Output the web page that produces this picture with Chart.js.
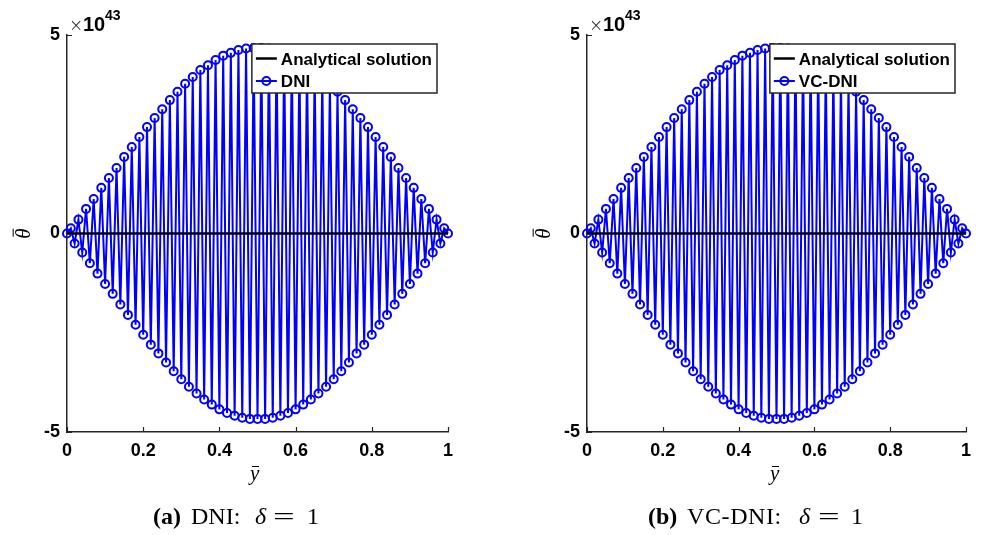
<!DOCTYPE html>
<html>
<head>
<meta charset="utf-8">
<script src="https://cdn.jsdelivr.net/npm/chart.js@4/dist/chart.umd.min.js"></script>
<style>
  html, body { margin: 0; padding: 0; background: #fff; }
  body { width: 981px; height: 535px; position: relative; overflow: hidden; font-family: "Liberation Sans", Arial, sans-serif; }
  canvas { position: absolute; top: 0; }
  .abs { position: absolute; white-space: nowrap; color: #000; }
  .times { font-family: "DejaVu Sans", sans-serif; font-weight: 200; font-size: 17px; line-height: 18px; color: #222; }
  .ten { font-weight: bold; font-size: 20px; line-height: 20px; }
  .sup { font-weight: bold; font-size: 14px; line-height: 14px; }
  .serif { font-family: "Liberation Serif", "Times New Roman", serif; font-size: 24px; line-height: 24px; }
  .ylab { font-family: "Liberation Serif", serif; font-style: italic; font-size: 21px; line-height: 21px; }
  .barred { position: relative; display: inline-block; }
  .barred::before { content: ""; position: absolute; left: 2px; right: 0px; height: 1.2px; background: #000; }
  .by::before { top: 3px; }
  .bt::before { top: 0px; }
</style>
</head>
<body>
<canvas id="chartA" width="470" height="470" style="left:0px"></canvas>
<canvas id="chartB" width="461" height="470" style="left:520px"></canvas>

<!-- exponent labels -->
<div class="abs times" style="left:69px;top:16px">×</div>
<div class="abs ten" style="left:83px;top:14px">10</div>
<div class="abs sup" style="left:105px;top:8px">43</div>
<div class="abs times" style="left:589px;top:16px">×</div>
<div class="abs ten" style="left:603px;top:14px">10</div>
<div class="abs sup" style="left:625px;top:8px">43</div>

<!-- axis titles -->
<div class="abs ylab" style="left:18px;top:223px;transform:rotate(-90deg);transform-origin:center;"><span class="barred bt">θ</span></div>
<div class="abs ylab" style="left:538px;top:223px;transform:rotate(-90deg);transform-origin:center;"><span class="barred bt">θ</span></div>
<div class="abs ylab" style="left:250px;top:463px"><span class="barred by">y</span></div>
<div class="abs ylab" style="left:770px;top:463px"><span class="barred by">y</span></div>

<!-- captions -->
<div class="abs serif" style="left:153px;top:504px"><b>(a)</b></div>
<div class="abs serif" style="left:191px;top:504px">DNI:</div>
<div class="abs serif" style="left:255px;top:504px"><i>δ</i></div>
<div class="abs serif" style="left:273px;top:504px;transform:scaleX(1.6);transform-origin:left;">=</div>
<div class="abs serif" style="left:307px;top:504px">1</div>

<div class="abs serif" style="left:648px;top:504px"><b>(b)</b></div>
<div class="abs serif" style="left:687px;top:504px;letter-spacing:0.6px">VC-DNI:</div>
<div class="abs serif" style="left:799px;top:504px"><i>δ</i></div>
<div class="abs serif" style="left:818px;top:504px;transform:scaleX(1.6);transform-origin:left;">=</div>
<div class="abs serif" style="left:851px;top:504px">1</div>

<script>
// ---------------- data ----------------
const xValues = [
  0.00, 0.01, 0.02, 0.03, 0.04, 0.05, 0.06, 0.07, 0.08, 0.09,
  0.10, 0.11, 0.12, 0.13, 0.14, 0.15, 0.16, 0.17, 0.18, 0.19,
  0.20, 0.21, 0.22, 0.23, 0.24, 0.25, 0.26, 0.27, 0.28, 0.29,
  0.30, 0.31, 0.32, 0.33, 0.34, 0.35, 0.36, 0.37, 0.38, 0.39,
  0.40, 0.41, 0.42, 0.43, 0.44, 0.45, 0.46, 0.47, 0.48, 0.49,
  0.50, 0.51, 0.52, 0.53, 0.54, 0.55, 0.56, 0.57, 0.58, 0.59,
  0.60, 0.61, 0.62, 0.63, 0.64, 0.65, 0.66, 0.67, 0.68, 0.69,
  0.70, 0.71, 0.72, 0.73, 0.74, 0.75, 0.76, 0.77, 0.78, 0.79,
  0.80, 0.81, 0.82, 0.83, 0.84, 0.85, 0.86, 0.87, 0.88, 0.89,
  0.90, 0.91, 0.92, 0.93, 0.94, 0.95, 0.96, 0.97, 0.98, 0.99,
  1.00
];

// DNI values (units of 1e43)
const dniValues = [
  0.00, 0.13, -0.25, 0.35, -0.48, 0.62, -0.75, 0.87, -1.01, 1.15,
  -1.27, 1.40, -1.52, 1.65, -1.79, 1.93, -2.05, 2.18, -2.30, 2.43,
  -2.55, 2.68, -2.80, 2.91, -3.02, 3.13, -3.25, 3.36, -3.47, 3.57,
  -3.67, 3.77, -3.86, 3.94, -4.03, 4.12, -4.18, 4.24, -4.31, 4.37,
  -4.43, 4.48, -4.52, 4.55, -4.59, 4.62, -4.64, 4.66, -4.67, 4.67,
  -4.67, 4.67, -4.67, 4.66, -4.64, 4.62, -4.59, 4.55, -4.52, 4.48,
  -4.43, 4.37, -4.31, 4.24, -4.18, 4.12, -4.03, 3.94, -3.86, 3.77,
  -3.67, 3.57, -3.47, 3.36, -3.25, 3.13, -3.02, 2.91, -2.80, 2.68,
  -2.55, 2.43, -2.30, 2.18, -2.05, 1.93, -1.79, 1.65, -1.52, 1.40,
  -1.27, 1.15, -1.01, 0.87, -0.75, 0.62, -0.48, 0.35, -0.25, 0.13,
  0.00
];

// VC-DNI values (units of 1e43)
const vcdniValues = [
  0.00, 0.13, -0.25, 0.35, -0.48, 0.62, -0.75, 0.87, -1.01, 1.15,
  -1.27, 1.40, -1.52, 1.65, -1.79, 1.93, -2.05, 2.18, -2.30, 2.43,
  -2.55, 2.68, -2.80, 2.91, -3.02, 3.13, -3.25, 3.36, -3.47, 3.57,
  -3.67, 3.77, -3.86, 3.94, -4.03, 4.12, -4.18, 4.24, -4.31, 4.37,
  -4.43, 4.48, -4.52, 4.55, -4.59, 4.62, -4.64, 4.66, -4.67, 4.67,
  -4.67, 4.67, -4.67, 4.66, -4.64, 4.62, -4.59, 4.55, -4.52, 4.48,
  -4.43, 4.37, -4.31, 4.24, -4.18, 4.12, -4.03, 3.94, -3.86, 3.77,
  -3.67, 3.57, -3.47, 3.36, -3.25, 3.13, -3.02, 2.91, -2.80, 2.68,
  -2.55, 2.43, -2.30, 2.18, -2.05, 1.93, -1.79, 1.65, -1.52, 1.40,
  -1.27, 1.15, -1.01, 0.87, -0.75, 0.62, -0.48, 0.35, -0.25, 0.13,
  0.00
];

const analyticalX = [0, 1];
const analyticalY = [0, 0];

const xTickValues = [0, 0.2, 0.4, 0.6, 0.8, 1];
const xTickLabels = ['0', '0.2', '0.4', '0.6', '0.8', '1'];
const yTickValues = [-5, 0, 5];
const yTickLabels = ['-5', '0', '5'];
const seriesLabelsA = ['Analytical solution', 'DNI'];
const seriesLabelsB = ['Analytical solution', 'VC-DNI'];

// ---------------- styling ----------------
const AXIS_COLOR = '#262626';
const BLUE = '#0000ff';
const TICK_FONT = { family: '"Liberation Sans", Arial, sans-serif', size: 18, weight: 'bold' };

const inwardTicks = {
  id: 'inwardTicks',
  afterDraw(chart) {
    const ctx = chart.ctx, area = chart.chartArea;
    const xs = chart.scales.x, ys = chart.scales.y;
    ctx.save();
    ctx.strokeStyle = AXIS_COLOR;
    ctx.lineWidth = 1.2;
    ctx.beginPath();
    xs.ticks.forEach(t => {
      const px = Math.round(xs.getPixelForValue(t.value)) + 0.5;
      ctx.moveTo(px, area.bottom);
      ctx.lineTo(px, area.bottom - 5);
    });
    ys.ticks.forEach(t => {
      const py = Math.round(ys.getPixelForValue(t.value)) + 0.5;
      ctx.moveTo(area.left, py);
      ctx.lineTo(area.left + 5, py);
    });
    ctx.stroke();
    ctx.restore();
  }
};

const boxLegend = {
  id: 'boxLegend',
  afterDraw(chart) {
    const ctx = chart.ctx, area = chart.chartArea;
    const ds = chart.data.datasets;
    ctx.save();
    ctx.font = 'bold 17px "Liberation Sans", Arial, sans-serif';
    const maxW = Math.max(...ds.map(d => ctx.measureText(d.label).width));
    const w = 29 + maxW + 5, h = 49;
    const left = area.right - 11 - w, top = area.top + 9;
    ctx.fillStyle = '#fff';
    ctx.fillRect(left, top, w, h);
    ctx.strokeStyle = AXIS_COLOR;
    ctx.lineWidth = 1.5;
    ctx.strokeRect(left, top, w, h);
    const rows = [top + 14.5, top + 37];
    ds.forEach((d, i) => {
      const cy = rows[i];
      ctx.strokeStyle = d.borderColor;
      ctx.lineWidth = d.borderWidth;
      ctx.beginPath();
      ctx.moveTo(left + 4, cy);
      ctx.lineTo(left + 25, cy);
      ctx.stroke();
      if (d.pointRadius > 0) {
        ctx.lineWidth = d.pointBorderWidth;
        ctx.beginPath();
        ctx.arc(left + 14.5, cy, d.pointRadius, 0, Math.PI * 2);
        ctx.stroke();
      }
      ctx.fillStyle = '#000';
      ctx.textBaseline = 'alphabetic';
      ctx.fillText(d.label, left + 29, cy + 6.1);
    });
    ctx.restore();
  }
};

function makeChart(id, labels, values, rightPad) {
  return new Chart(document.getElementById(id), {
    type: 'line',
    data: {
      datasets: [
        {
          label: labels[0],
          data: analyticalX.map((x, i) => ({ x: x, y: analyticalY[i] })),
          borderColor: '#000000',
          borderWidth: 2.5,
          pointRadius: 0,
          clip: false
        },
        {
          label: labels[1],
          data: xValues.map((x, i) => ({ x: x, y: values[i] })),
          borderColor: BLUE,
          borderWidth: 2,
          pointRadius: 4,
          pointBorderWidth: 2,
          pointBorderColor: BLUE,
          pointBackgroundColor: 'rgba(0,0,0,0)',
          clip: false
        }
      ]
    },
    options: {
      responsive: false,
      animation: false,
      events: [],
      layout: { padding: { top: 35, right: rightPad, left: 0, bottom: 0 } },
      plugins: { legend: { display: false }, tooltip: { enabled: false } },
      scales: {
        x: {
          type: 'linear', min: 0, max: 1,
          afterBuildTicks: s => { s.ticks = xTickValues.map(v => ({ value: v })); },
          afterFit: s => { s.height = 38; },
          ticks: { font: TICK_FONT, color: '#000', padding: 8, maxRotation: 0, autoSkip: false,
                   callback: (v) => xTickLabels[xTickValues.indexOf(v)] },
          grid: { display: true, drawOnChartArea: false, drawTicks: false },
          border: { display: true, color: AXIS_COLOR, width: 1.5 }
        },
        y: {
          type: 'linear', min: -5, max: 5,
          afterBuildTicks: s => { s.ticks = yTickValues.map(v => ({ value: v })); },
          afterFit: s => { s.width = 67; },
          ticks: { font: TICK_FONT, color: '#000', padding: 7, autoSkip: false,
                   callback: (v) => yTickLabels[yTickValues.indexOf(v)] },
          grid: { display: true, drawOnChartArea: false, drawTicks: false },
          border: { display: true, color: AXIS_COLOR, width: 1.5 }
        }
      }
    },
    plugins: [inwardTicks, boxLegend]
  });
}

makeChart('chartA', seriesLabelsA, dniValues, 22);
makeChart('chartB', seriesLabelsB, vcdniValues, 15);
</script>
</body>
</html>
